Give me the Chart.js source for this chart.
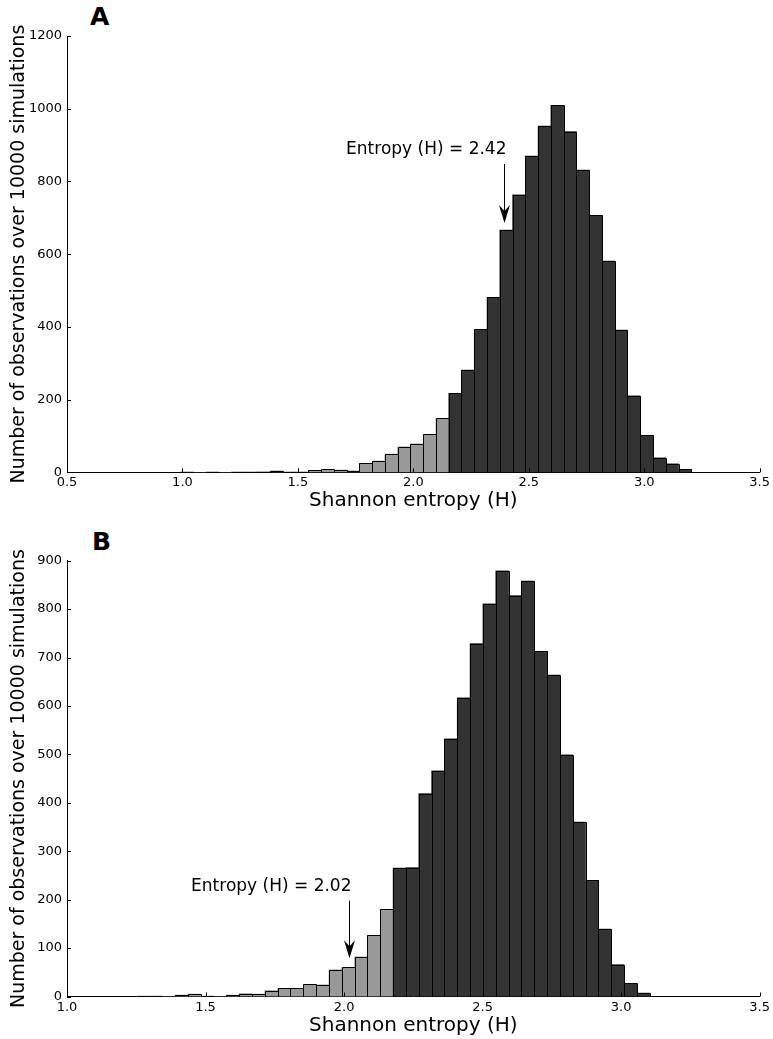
<!DOCTYPE html>
<html>
<head>
<meta charset="utf-8">
<script src="https://cdn.jsdelivr.net/npm/chart.js@4.4.1/dist/chart.umd.min.js"></script>
<style>
  body { margin: 0; background: #fff; width: 773px; height: 1039px; position: relative; overflow: hidden; }
  canvas { position: absolute; left: 0; }
  #chartA { top: 0; }
  #chartB { top: 520px; }
  .panel-letter { position: absolute; font: bold 25px "DejaVu Sans", sans-serif; color: #000; }
</style>
</head>
<body>
<div class="panel-letter" style="left:90px; top:2px;">A</div>
<div class="panel-letter" style="left:92px; top:527px;">B</div>
<canvas id="chartA" width="773" height="520"></canvas>
<canvas id="chartB" width="773" height="519"></canvas>
<script>
// histogram A: 40 bins, left edge and width
const binStartA = 0.992;
const binWidthA = 0.0553;
const countsA = [1, 0, 1, 0, 1, 1, 2, 4, 1, 1, 5, 8, 6, 4, 25, 31, 50, 70, 78, 104,
                 148, 217, 281, 393, 481, 666, 763, 870, 952, 1009, 937, 831, 707, 581, 391, 210,
                 102, 40, 23, 8];
const firstDarkA = 21;

// histogram B
const binStartB = 1.251;
const binWidthB = 0.0463;
const countsB = [1, 1, 0, 3, 5, 1, 0, 3, 6, 5, 12, 17, 17, 25, 24, 55, 60, 82, 126, 180,
                 265, 266, 419, 466, 532, 617, 729, 811, 879, 828, 858, 713, 664, 499, 360, 240,
                 139, 66, 27, 7];
const firstDarkB = 20;

const noteA = { text: 'Entropy (H) = 2.42', x: 2.393, top: 848, tip: 686, textY: 888 };
const noteB = { text: 'Entropy (H) = 2.02', x: 2.018, top: 198, tip: 79, textY: 226 };

const FONT = '"DejaVu Sans", sans-serif';

// bar outlines, inward tick marks and the arrow note
const histDecor = {
    id: 'histDecor',
    afterDatasetsDraw(chart) {
        const ctx = chart.ctx;
        const meta = chart.getDatasetMeta(0);
        ctx.save();
        ctx.strokeStyle = '#000';
        ctx.lineWidth = 1;
        meta.data.forEach((bar, i) => {
            if (!chart.data.datasets[0].data[i].y) return;
            const p = bar.getProps(['x', 'y', 'base', 'width'], true);
            const l = Math.round(p.x - p.width / 2) + 0.5;
            const r = Math.round(p.x + p.width / 2) + 0.5;
            const t = Math.round(p.y) + 0.5;
            ctx.beginPath();
            ctx.moveTo(l, p.base);
            ctx.lineTo(l, t);
            ctx.lineTo(r, t);
            ctx.lineTo(r, p.base);
            ctx.stroke();
        });
        ctx.restore();
    },
    afterDraw(chart, args, opts) {
        const ctx = chart.ctx;
        const xs = chart.scales.x, ys = chart.scales.y;
        ctx.save();
        ctx.strokeStyle = '#000';
        ctx.lineWidth = 1;
        xs.ticks.forEach(t => {
            const px = Math.round(xs.getPixelForValue(t.value)) + 0.5;
            ctx.beginPath();
            ctx.moveTo(px, ys.bottom);
            ctx.lineTo(px, ys.bottom - 4);
            ctx.stroke();
        });
        ys.ticks.forEach(t => {
            const py = Math.round(ys.getPixelForValue(t.value)) + 0.5;
            ctx.beginPath();
            ctx.moveTo(xs.left, py);
            ctx.lineTo(xs.left + 4, py);
            ctx.stroke();
        });

        const note = opts.note;
        const ax = Math.round(xs.getPixelForValue(note.x)) + 0.5;
        const top = ys.getPixelForValue(note.top);
        const tip = ys.getPixelForValue(note.tip);
        const headLen = 18, headHalf = 5.5, notch = 6;
        ctx.beginPath();
        ctx.moveTo(ax, top);
        ctx.lineTo(ax, tip - headLen + notch);
        ctx.stroke();
        ctx.fillStyle = '#000';
        ctx.beginPath();
        ctx.moveTo(ax, tip);
        ctx.lineTo(ax - headHalf, tip - headLen);
        ctx.lineTo(ax, tip - headLen + notch);
        ctx.lineTo(ax + headHalf, tip - headLen);
        ctx.closePath();
        ctx.fill();

        ctx.font = '17px ' + FONT;
        ctx.textAlign = 'right';
        ctx.textBaseline = 'middle';
        ctx.fillText(note.text, ax + 2, ys.getPixelForValue(note.textY));
        ctx.restore();
    }
};

function makeHist(canvasId, binStart, binWidth, counts, firstDark, xMin, yMax, yStep, padTop, xAxisHeight, xTitlePad, note) {
    const points = counts.map((c, i) => ({ x: binStart + (i + 0.5) * binWidth, y: c }));
    const colors = counts.map((c, i) => i < firstDark ? '#999999' : '#333333');

    return new Chart(document.getElementById(canvasId), {
        type: 'bar',
        data: {
            datasets: [{
                data: points,
                backgroundColor: colors,
                borderWidth: 0,
                barPercentage: 1,
                categoryPercentage: 1
            }]
        },
        options: {
            responsive: false,
            animation: false,
            events: [],
            layout: { padding: { top: padTop, right: 13, bottom: 0, left: 0 } },
            plugins: {
                legend: { display: false },
                tooltip: { enabled: false },
                histDecor: { note: note }
            },
            scales: {
                x: {
                    type: 'linear',
                    min: xMin,
                    max: 3.5,
                    offset: false,
                    z: 1,
                    grid: { display: false, drawTicks: false },
                    border: { display: true, color: '#000', width: 1 },
                    ticks: {
                        stepSize: 0.5,
                        maxRotation: 0,
                        padding: 3,
                        color: '#000',
                        font: { family: FONT, size: 13 },
                        callback: v => v.toFixed(1)
                    },
                    title: {
                        display: true,
                        text: 'Shannon entropy (H)',
                        color: '#000',
                        font: { family: FONT, size: 20 },
                        padding: { top: 0, bottom: xTitlePad }
                    },
                    afterFit: s => { s.height = xAxisHeight; }
                },
                y: {
                    min: 0,
                    max: yMax,
                    z: 1,
                    grid: { display: false, drawTicks: false },
                    border: { display: true, color: '#000', width: 1 },
                    ticks: {
                        stepSize: yStep,
                        padding: 5,
                        color: '#000',
                        font: { family: FONT, size: 13 },
                        callback: v => String(v)
                    },
                    title: {
                        display: true,
                        text: 'Number of observations over 10000 simulations',
                        color: '#000',
                        font: { family: FONT, size: 19 },
                        padding: { top: 8, bottom: 0 }
                    },
                    afterFit: s => { s.width = 67; }
                }
            }
        },
        plugins: [histDecor]
    });
}

makeHist('chartA', binStartA, binWidthA, countsA, firstDarkA, 0.5, 1200, 200, 36, 47.7, 7, noteA);
makeHist('chartB', binStartB, binWidthB, countsB, firstDarkB, 1.0, 900, 100, 40.7, 42.5, 1, noteB);
</script>
</body>
</html>
